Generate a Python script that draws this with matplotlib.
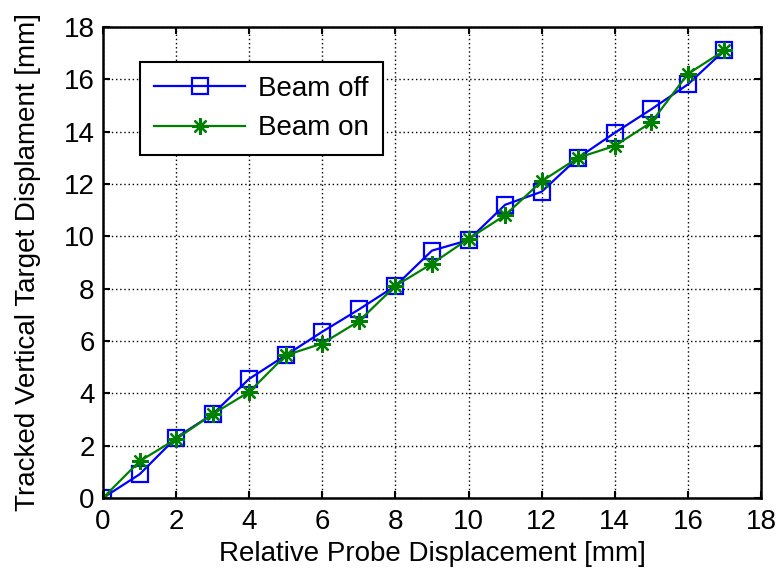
import numpy as np
import matplotlib.pyplot as plt

plt.rcParams['font.family'] = ['Liberation Sans', 'DejaVu Sans']

probe = list(range(18))
beam_off = [0, 0.9, 2.3, 3.2, 4.55, 5.45, 6.35, 7.2, 8.1, 9.45, 9.85, 11.2, 11.7, 13.0, 13.95, 14.85, 15.8, 17.1]
beam_on = [0, 1.4, 2.25, 3.2, 4.05, 5.45, 5.9, 6.75, 8.1, 8.95, 9.9, 10.8, 12.1, 13.0, 13.45, 14.35, 16.2, 17.1]

fig = plt.figure(figsize=(7.8, 5.71), dpi=100)
ax = fig.add_axes([0.132, 0.128, 0.8436, 0.825])

# MATLAB style: hollow squares and 8-ray asterisks
ax.plot(probe, beam_off, color='blue', lw=1.6, marker='s', ms=12, mfc='none',
        mec='blue', mew=1.6, label='Beam off')
ax.plot(probe, beam_on, color='green', lw=1.6, marker=(8, 2, 0), ms=12,
        mec='green', mew=1.6, label='Beam on')

ax.set_xlim(0, 18)
ax.set_ylim(0, 18)
ax.set_xticks(range(0, 19, 2))
ax.set_yticks(range(0, 19, 2))
ax.grid(True, color='black', linestyle=(0, (1, 2)), linewidth=1.0)
ax.tick_params(direction='in', length=5, width=1.5, top=True, right=True,
               labelsize=20)
ax.tick_params(axis='x', pad=8)
ax.tick_params(axis='y', pad=6)
for s in ax.spines.values():
    s.set_linewidth(1.8)

ax.set_xlabel('Relative Probe Displacement [mm]', fontsize=20, labelpad=4)
ax.set_ylabel('Tracked Vertical Target Displament [mm]', fontsize=20, labelpad=16)

leg = ax.legend(loc='upper left', bbox_to_anchor=(0.056, 0.926), borderaxespad=0,
                fontsize=20, fancybox=False, edgecolor='black', framealpha=1,
                borderpad=0.5, handlelength=3.3, handletextpad=0.45,
                labelspacing=0.5)
leg.get_frame().set_linewidth(1.5)

fig.savefig('out.png', dpi=100)
